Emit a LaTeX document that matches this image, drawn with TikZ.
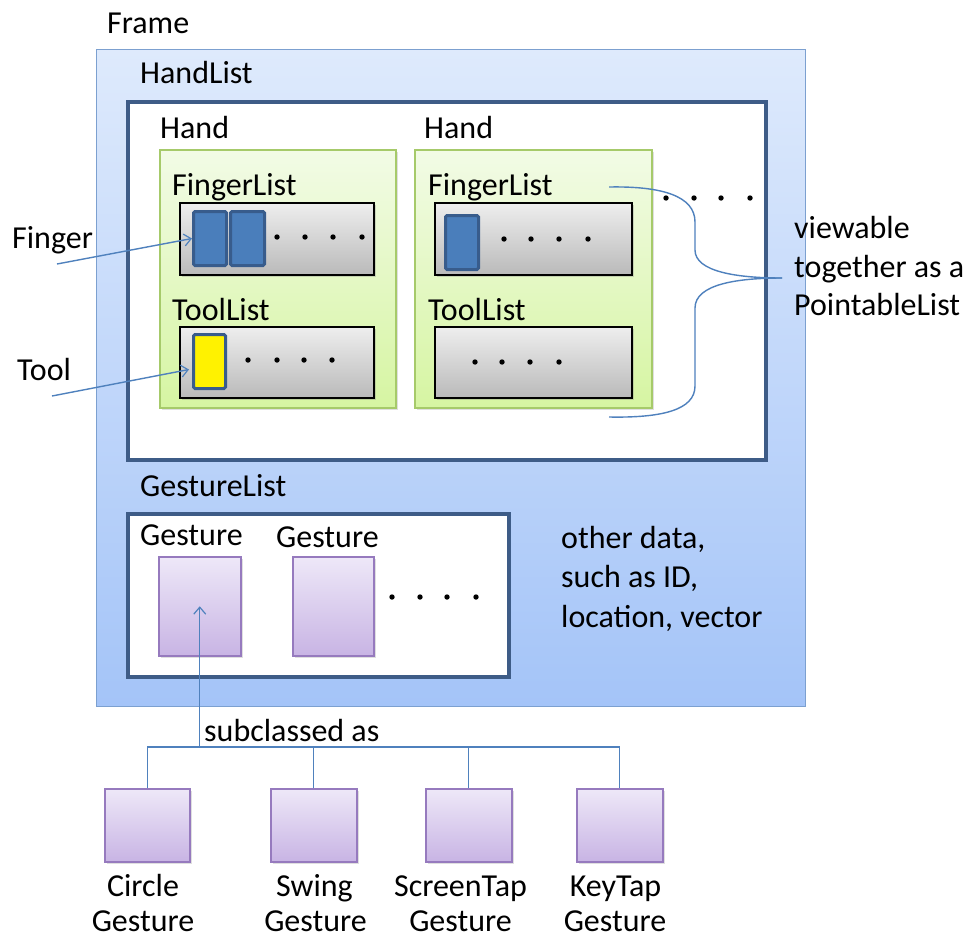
\documentclass[tikz,border=0pt]{standalone}
\usepackage{fontspec}
\setmainfont{Carlito}
\usetikzlibrary{arrows.meta,shadows,calc}

\definecolor{framefillA}{RGB}{222,234,252}
\definecolor{framefillB}{RGB}{164,196,248}
\definecolor{framedraw}{RGB}{124,160,208}
\definecolor{listdraw}{RGB}{62,92,135}
\definecolor{handA}{RGB}{242,251,230}
\definecolor{handB}{RGB}{214,245,162}
\definecolor{handdraw}{RGB}{166,202,106}
\definecolor{grayA}{RGB}{238,238,238}
\definecolor{grayB}{RGB}{186,186,186}
\definecolor{fingerfill}{RGB}{74,126,187}
\definecolor{fingerdraw}{RGB}{56,92,140}
\definecolor{purpA}{RGB}{238,232,248}
\definecolor{purpB}{RGB}{200,180,228}
\definecolor{purpdraw}{RGB}{150,122,190}
\definecolor{connector}{RGB}{79,129,189}

\begin{document}
\begin{tikzpicture}[x=1pt,y=-1pt,
  lbl/.style={anchor=base west, inner sep=0pt, font=\fontsize{32}{38}\selectfont},
  clbl/.style={anchor=base, inner sep=0pt, font=\fontsize{32}{38}\selectfont},
  corner/.style={anchor=north west, inner sep=0pt, rectangle},
  framebox/.style={corner, top color=framefillA, bottom color=framefillB, draw=framedraw, line width=1.2pt},
  listbox/.style={corner, fill=white, draw=listdraw, line width=4pt},
  handbox/.style={corner, top color=handA, bottom color=handB, draw=handdraw, line width=1.5pt,
    drop shadow={shadow xshift=2pt, shadow yshift=-2pt, opacity=0.25}},
  graybox/.style={corner, top color=grayA, bottom color=grayB, draw=black, line width=1.5pt,
    drop shadow={shadow xshift=2pt, shadow yshift=-2pt, opacity=0.3}},
  fingerbox/.style={corner, fill=fingerfill, draw=fingerdraw, line width=3pt, rounded corners=1.5pt},
  toolbox/.style={corner, fill=yellow, draw=fingerdraw, line width=3pt, rounded corners=1.5pt},
  gesturebox/.style={corner, top color=purpA, bottom color=purpB, draw=purpdraw, line width=1.5pt,
    drop shadow={shadow xshift=2pt, shadow yshift=-2pt, opacity=0.25}},
  conn/.style={draw=connector, line width=1.4pt},
  arr/.style={conn, -{Straight Barb[length=7pt, width=12pt, line width=1.2pt]}},
  dotmark/.style={fill=black}
]
\useasboundingbox (0,0) rectangle (971,938);

% --- Frame and its lists ---
\node[framebox, minimum width=709pt, minimum height=657pt] (frame) at (96,49) {};
\node[lbl] (framelbl) at (107,33) {Frame};

\node[listbox, minimum width=638pt, minimum height=358pt] (handlist) at (126,100) {};
\node[lbl] (handlistlbl) at (140,83) {HandList};

% --- first hand ---
\node[handbox, minimum width=236pt, minimum height=258pt] (hand1) at (159,149) {};
\node[lbl] (hand1lbl) at (160,138) {Hand};
\node[lbl] (fl1lbl) at (172,195) {FingerList};
\node[graybox, minimum width=194pt, minimum height=72pt] (fl1) at (179,202) {};
\node[fingerbox, minimum width=33pt, minimum height=54pt] (f1) at (192,210) {};
\node[fingerbox, minimum width=34pt, minimum height=54pt] (f2) at (229,210) {};
\foreach \x in {277,305,333,362} \fill[dotmark] (\x,237) circle (2.7);
\node[lbl] (tl1lbl) at (172,320) {ToolList};
\node[graybox, minimum width=194pt, minimum height=71pt] (tl1) at (179,326) {};
\node[toolbox, minimum width=32pt, minimum height=54pt] (t1) at (192,333) {};
\foreach \x in {248,277,304,332} \fill[dotmark] (\x,360) circle (2.7);

% --- second hand ---
\node[handbox, minimum width=237pt, minimum height=258pt] (hand2) at (414,149) {};
\node[lbl] (hand2lbl) at (424,138) {Hand};
\node[lbl] (fl2lbl) at (428,195) {FingerList};
\node[graybox, minimum width=197pt, minimum height=72pt] (fl2) at (434,202) {};
\node[fingerbox, minimum width=33pt, minimum height=54pt] (f3) at (444,214) {};
\foreach \x in {504,531,559,588} \fill[dotmark] (\x,239) circle (2.7);
\node[lbl] (tl2lbl) at (428,320) {ToolList};
\node[graybox, minimum width=197pt, minimum height=71pt] (tl2) at (434,326) {};
\foreach \x in {475,502,530,559} \fill[dotmark] (\x,362) circle (2.7);

% more hands follow
\foreach \x in {666,694,721,750} \fill[dotmark] (\x,198) circle (2.7);

% --- brace grouping finger and tool lists ---
\coordinate (braceA) at (609,187);
\coordinate (braceB) at (609,417);
\coordinate (braceTip) at (782,278);
\draw[conn] (braceA) .. controls (662,186) and (695,196) .. (695,222) -- (695,250)
  .. controls (695,272) and (738,278) .. (braceTip);
\draw[conn] (braceB) .. controls (662,418) and (695,410) .. (695,386) -- (695,308)
  .. controls (695,284) and (738,278) .. (braceTip);
\node[lbl] (pl1) at (794,238) {viewable};
\node[lbl] (pl2) at (794,277) {together as a};
\node[lbl] (pl3) at (794,315) {PointableList};

% --- Finger and Tool pointers ---
\node[lbl] (fingerlbl) at (12,248) {Finger};
\node[lbl] (toollbl) at (17,380) {Tool};
\coordinate (fingertail) at (57,264);
\coordinate (tooltail) at (52,396);
\draw[arr] (fingertail) -- (f1.west);
\draw[arr] (tooltail) -- ($(t1.west)+(-3,8)$);

% --- gestures ---
\node[lbl] (gllbl) at (140,496) {GestureList};
\node[listbox, minimum width=381pt, minimum height=163pt] (gesturelist) at (126,512) {};
\node[lbl] (g1lbl) at (140,545) {Gesture};
\node[lbl] (g2lbl) at (276,547) {Gesture};
\node[gesturebox, minimum width=82pt, minimum height=99pt] (g1) at (158,556) {};
\node[gesturebox, minimum width=81pt, minimum height=99pt] (g2) at (292,556) {};
\foreach \x in {392,420,447,476} \fill[dotmark] (\x,597) circle (2.7);

\node[lbl] (od1) at (561,548) {other data,};
\node[lbl] (od2) at (561,587) {such as ID,};
\node[lbl] (od3) at (561,627) {location, vector};

% --- gesture subclasses ---
\node[gesturebox, minimum width=85pt, minimum height=73pt] (circle) at (104,788) {};
\node[gesturebox, minimum width=86pt, minimum height=73pt] (swing) at (270,788) {};
\node[gesturebox, minimum width=86pt, minimum height=73pt] (screentap) at (425,788) {};
\node[gesturebox, minimum width=86pt, minimum height=73pt] (keytap) at (576,788) {};

\node[clbl] (c1) at (143,896) {Circle};
\node[clbl] (c2) at (143,931) {Gesture};
\node[clbl] (s1) at (314.5,896) {Swing};
\node[clbl] (s2) at (315.5,931) {Gesture};
\node[clbl] (st1) at (460.5,896) {ScreenTap};
\node[clbl] (st2) at (460.5,931) {Gesture};
\node[clbl] (k1) at (615.5,896) {KeyTap};
\node[clbl] (k2) at (615,931) {Gesture};

\coordinate (bus) at (0,747);
\draw[conn] (circle.north |- bus) -- (keytap.north |- bus);
\foreach \n in {circle,swing,screentap,keytap}
  \draw[conn] (\n.north) -- (\n.north |- bus);
\draw[arr] (g1.center |- bus) -- (g1.center);
\node[lbl] (subcl) at (204,741) {subclassed as};
\end{tikzpicture}
\end{document}
